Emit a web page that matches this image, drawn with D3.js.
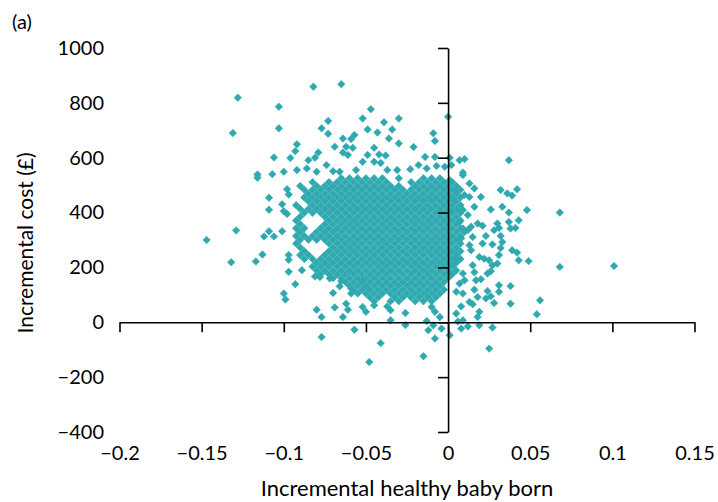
<!DOCTYPE html>
<html>
<head>
<meta charset="utf-8">
<script src="https://cdn.jsdelivr.net/npm/d3@7"></script>
<style>
  body { margin: 0; background: #fff; }
  text { font-family: Lato, "Open Sans", sans-serif; fill: #000; }
</style>
</head>
<body>
<svg id="chart" width="718" height="502"></svg>
<script>
var xTicks = [-0.2, -0.15, -0.1, -0.05, 0, 0.05, 0.1, 0.15];
var xTickLabels = ['\u22120.2', '\u22120.15', '\u22120.1', '\u22120.05', '0', '0.05', '0.1', '0.15'];
var yTicks = [-400, -200, 0, 200, 400, 600, 800, 1000];
var yTickLabels = ['\u2212400', '\u2212200', '0', '200', '400', '600', '800', '1000'];

// scattered simulations around the cloud: [incremental effect, incremental cost]
var outerPoints = [
  [-0.128,819],[-0.103,786],[-0.131,690],[-0.103,707],[-0.106,601],[-0.096,599],[-0.107,540],[-0.100,549],[-0.116,539],
  [-0.082,859],[-0.065,868],[-0.073,734],[-0.077,707],[-0.073,687],[-0.052,743],[-0.047,777],[-0.049,703],[-0.064,670],
  [-0.057,683],[-0.059,668],[-0.092,649],[-0.093,624],[-0.069,640],[-0.062,640],[-0.058,636],[-0.064,619],[-0.061,610],
  [-0.079,619],[-0.081,600],[-0.085,591],[-0.052,585],[-0.074,573],[-0.086,561],[-0.092,555],[-0.070,551],[-0.066,549],
  [-0.080,549],[-0.056,555],[-0.049,610],
  [-0.030,743],[-0.039,729],[-0.034,703],[-0.043,692],[-0.036,670],[-0.030,652],[-0.021,639],[-0.009,689],[-0.008,661],
  [0.000,749],[-0.045,636],[-0.042,612],[-0.038,608],[-0.014,603],[-0.008,603],[0.001,600],[-0.045,585],[-0.041,581],
  [-0.037,555],[-0.031,555],[-0.023,558],[-0.018,573],[-0.013,561],[-0.007,570],[-0.002,567],
  [0.037,591],[0.007,591],[0.010,595],[0.002,573],[0.009,546],
  [-0.116,527],[-0.098,485],[-0.097,466],[-0.109,454],[-0.101,430],[-0.109,410],[-0.100,405],[-0.098,395],[-0.129,335],
  [-0.147,300],[-0.109,332],[-0.112,313],[-0.106,313],[-0.101,332],[-0.113,247],[-0.132,219],[-0.117,222],[-0.097,245],
  [-0.097,228],
  [0.001,518],[0.009,537],[0.013,506],[0.016,488],[0.032,482],[0.036,470],[0.039,462],[0.042,485],[0.005,478],[0.010,464],
  [0.013,457],[0.020,457],[0.004,445],[0.016,421],[0.026,411],[0.033,421],[0.037,400],[0.048,409],[0.068,400],[0.002,403],
  [0.009,409],[0.012,391],[0.007,366],[0.018,360],[0.021,352],[0.030,360],[0.037,366],[0.043,372],[0.028,336],[0.031,344],
  [0.038,342],[0.041,344],[0.009,342],[0.012,336],[0.014,348],[0.023,315],[0.032,315],[0.015,311],[0.008,306],[0.033,293],
  [0.021,287],[0.027,284],[0.013,281],[0.014,263],[0.032,271],[0.039,263],[0.042,254],[0.031,245],[0.019,238],[0.022,232],
  [0.025,226],[0.043,226],[0.049,223],[0.068,202],[0.101,205],[0.015,208],[0.027,208],[0.030,214],[0.005,233],[0.003,208],
  [0.001,179],[0.009,178],[0.016,182],[0.024,178],[0.026,186],[0.031,135],[0.031,111],[0.038,132],[0.017,153],[0.020,157],
  [0.007,141],[0.010,153],[0.024,114],[0.016,119],[0.005,111],[0.009,105],[0.018,92],[0.023,87],[0.026,95],[0.028,70],
  [0.013,74],[0.015,66],[0.008,58],[0.038,68],[0.056,80],[0.054,29],[0.019,38],[0.018,19],[0.005,32],[0.009,7],[0.006,3],
  [0.019,-11],[0.012,-15],[0.008,-23],[0.027,-19],[0.025,-96],[0.001,-47],
  [-0.041,-76],[-0.015,-124],[-0.048,-145],[-0.035,7],[-0.026,-10],[-0.013,5],[-0.009,-11],[-0.012,-29],[-0.004,-23],
  [-0.008,-59],[-0.026,34],[-0.037,58],[-0.035,44],[-0.045,62],[-0.008,38],[-0.005,19],[-0.010,56],
  [-0.093,139],[-0.077,-54],[-0.057,-27],[-0.080,46],[-0.077,19],[-0.069,54],[-0.064,19],[-0.062,68],[-0.061,46],
  [-0.070,107],[-0.066,131],[-0.065,150],[-0.059,123],[-0.059,105],[-0.072,160],[-0.078,165],[-0.081,167],[-0.052,153],
  [-0.050,129],[-0.052,56],[-0.050,38],[-0.089,190],
  [-0.100,105],[-0.099,83],[-0.097,184]
];

// dense centre of the cloud, read band by band: cost level and the effects seen at it
var coreCosts = [525, 511, 497, 483, 469, 455, 441, 427, 413, 399, 385, 371, 357, 343, 329, 315, 301,
                 287, 273, 259, 245, 231, 217, 203, 189, 175, 161, 147, 133, 119, 105, 91, 77];
var coreEffects = [
  [-0.065,-0.060,-0.055,-0.050,-0.045,-0.040,-0.030,-0.015,-0.010,-0.005],
  [-0.0825,-0.0725,-0.0675,-0.0625,-0.0575,-0.0525,-0.0475,-0.0425,-0.0375,-0.0225,-0.0175,-0.0125,-0.0075,-0.0025,0.0025],
  [-0.090,-0.080,-0.075,-0.070,-0.065,-0.060,-0.055,-0.050,-0.045,-0.040,-0.035,-0.030,-0.020,-0.015,-0.010,-0.005,0.000,0.005],
  [-0.0875,-0.0825,-0.0775,-0.0725,-0.0675,-0.0625,-0.0575,-0.0525,-0.0475,-0.0425,-0.0375,-0.0325,-0.0275,-0.0225,-0.0175,-0.0125,-0.0075,-0.0025,0.0025,0.0075],
  [-0.085,-0.080,-0.075,-0.070,-0.065,-0.060,-0.055,-0.050,-0.045,-0.040,-0.035,-0.030,-0.025,-0.020,-0.015,-0.010,-0.005,0.000,0.005],
  [-0.0875,-0.0825,-0.0775,-0.0725,-0.0675,-0.0625,-0.0575,-0.0525,-0.0475,-0.0425,-0.0375,-0.0325,-0.0275,-0.0225,-0.0175,-0.0125,-0.0075,-0.0025,0.0025,0.0075],
  [-0.085,-0.080,-0.075,-0.070,-0.065,-0.060,-0.055,-0.050,-0.045,-0.040,-0.035,-0.030,-0.025,-0.020,-0.015,-0.010,-0.005,0.000,0.005],
  [-0.0925,-0.0825,-0.0775,-0.0725,-0.0675,-0.0625,-0.0575,-0.0525,-0.0475,-0.0425,-0.0375,-0.0325,-0.0275,-0.0225,-0.0175,-0.0125,-0.0075,-0.0025,0.0025,0.0075],
  [-0.090,-0.085,-0.080,-0.075,-0.070,-0.065,-0.060,-0.055,-0.050,-0.045,-0.040,-0.035,-0.030,-0.025,-0.020,-0.015,-0.010,-0.005,0.000,0.005],
  [-0.0875,-0.0825,-0.0775,-0.0725,-0.0675,-0.0625,-0.0575,-0.0525,-0.0475,-0.0425,-0.0375,-0.0325,-0.0275,-0.0225,-0.0175,-0.0125,-0.0075,-0.0025,0.0025,0.0075],
  [-0.090,-0.075,-0.070,-0.065,-0.060,-0.055,-0.050,-0.045,-0.040,-0.035,-0.030,-0.025,-0.020,-0.015,-0.010,-0.005,0.000,0.005],
  [-0.0925,-0.0725,-0.0675,-0.0625,-0.0575,-0.0525,-0.0475,-0.0425,-0.0375,-0.0325,-0.0275,-0.0225,-0.0175,-0.0125,-0.0075,-0.0025,0.0025,0.0075],
  [-0.090,-0.075,-0.070,-0.065,-0.060,-0.055,-0.050,-0.045,-0.040,-0.035,-0.030,-0.025,-0.020,-0.015,-0.010,-0.005,0.000,0.005],
  [-0.0925,-0.0875,-0.0775,-0.0725,-0.0675,-0.0625,-0.0575,-0.0525,-0.0475,-0.0425,-0.0375,-0.0325,-0.0275,-0.0225,-0.0175,-0.0125,-0.0075,-0.0025,0.0025,0.0075],
  [-0.090,-0.080,-0.075,-0.070,-0.065,-0.060,-0.055,-0.050,-0.045,-0.040,-0.035,-0.030,-0.025,-0.020,-0.015,-0.010,-0.005,0.000,0.005,0.010],
  [-0.0925,-0.0875,-0.0825,-0.0775,-0.0725,-0.0675,-0.0625,-0.0575,-0.0525,-0.0475,-0.0425,-0.0375,-0.0325,-0.0275,-0.0225,-0.0175,-0.0125,-0.0075,-0.0025,0.0025,0.0075],
  [-0.090,-0.085,-0.080,-0.075,-0.070,-0.065,-0.060,-0.055,-0.050,-0.045,-0.040,-0.035,-0.030,-0.025,-0.020,-0.015,-0.010,-0.005,0.000,0.005],
  [-0.0925,-0.0725,-0.0675,-0.0625,-0.0575,-0.0525,-0.0475,-0.0425,-0.0375,-0.0325,-0.0275,-0.0225,-0.0175,-0.0125,-0.0075,-0.0025,0.0025,0.0075],
  [-0.090,-0.070,-0.065,-0.060,-0.055,-0.050,-0.045,-0.040,-0.035,-0.030,-0.025,-0.020,-0.015,-0.010,-0.005,0.000,0.005],
  [-0.0875,-0.0725,-0.0675,-0.0625,-0.0575,-0.0525,-0.0475,-0.0425,-0.0375,-0.0325,-0.0275,-0.0225,-0.0175,-0.0125,-0.0075,-0.0025,0.0025,0.0075],
  [-0.090,-0.085,-0.075,-0.070,-0.065,-0.060,-0.055,-0.050,-0.045,-0.040,-0.035,-0.030,-0.025,-0.020,-0.015,-0.010,-0.005,0.000,0.005],
  [-0.0875,-0.0825,-0.0775,-0.0725,-0.0675,-0.0625,-0.0575,-0.0525,-0.0475,-0.0425,-0.0375,-0.0325,-0.0275,-0.0225,-0.0175,-0.0125,-0.0075,-0.0025,0.0025,0.0075],
  [-0.080,-0.075,-0.070,-0.065,-0.060,-0.055,-0.050,-0.045,-0.040,-0.035,-0.030,-0.025,-0.020,-0.015,-0.010,-0.005,0.000,0.005],
  [-0.0825,-0.0775,-0.0725,-0.0675,-0.0625,-0.0575,-0.0525,-0.0475,-0.0425,-0.0375,-0.0325,-0.0275,-0.0225,-0.0175,-0.0125,-0.0075,-0.0025,0.0025],
  [-0.080,-0.075,-0.070,-0.065,-0.060,-0.055,-0.050,-0.045,-0.040,-0.035,-0.030,-0.025,-0.020,-0.015,-0.010,-0.005,0.000,0.005],
  [-0.0775,-0.0725,-0.0675,-0.0625,-0.0575,-0.0525,-0.0475,-0.0425,-0.0375,-0.0325,-0.0275,-0.0225,-0.0175,-0.0125,-0.0075,-0.0025,0.0025],
  [-0.070,-0.065,-0.060,-0.055,-0.050,-0.045,-0.040,-0.035,-0.030,-0.025,-0.020,-0.015,-0.010,-0.005,0.000],
  [-0.0625,-0.0575,-0.0525,-0.0475,-0.0425,-0.0375,-0.0325,-0.0275,-0.0225,-0.0175,-0.0125,-0.0075,-0.0025],
  [-0.060,-0.055,-0.050,-0.045,-0.040,-0.035,-0.030,-0.025,-0.020,-0.015,-0.010,-0.005],
  [-0.0575,-0.0525,-0.0475,-0.0425,-0.0375,-0.0325,-0.0275,-0.0225,-0.0175,-0.0125,-0.0075,-0.0025],
  [-0.055,-0.050,-0.045,-0.040,-0.035,-0.030,-0.025,-0.020,-0.015,-0.010,-0.005],
  [-0.0475,-0.0425,-0.0325,-0.0275,-0.0225,-0.0175,-0.0125,-0.0075],
  [-0.045,-0.035,-0.030,-0.020,-0.015,-0.010]
];

var markerColor = '#2fa9b0';

var svg = d3.select('#chart');

var x = d3.scaleLinear().domain([-0.2, 0.15]).range([119.5, 694.5]);
var y = d3.scaleLinear().domain([-400, 1000]).range([432, 48]);

// flatten the bands into points
var points = outerPoints.slice();
coreCosts.forEach(function(cost, i) {
  coreEffects[i].forEach(function(effect) {
    points.push([effect, cost]);
  });
});

var diamond = d3.symbol().type(d3.symbolSquare).size(28);

svg.append('g')
  .selectAll('path')
  .data(points)
  .enter()
  .append('path')
  .attr('d', diamond)
  .attr('fill', markerColor)
  .attr('stroke', markerColor)
  .attr('stroke-width', 0.6)
  .attr('transform', function(d) {
    return 'translate(' + x(d[0]) + ',' + y(d[1]) + ') rotate(45)';
  });

// axes crossing at the origin, ticks only
var xAxisLine = svg.append('g')
  .attr('transform', 'translate(0,' + y(0) + ')')
  .call(d3.axisBottom(x).tickValues(xTicks).tickSize(10).tickSizeOuter(0).tickFormat(''));

var yAxisLine = svg.append('g')
  .attr('transform', 'translate(' + x(0) + ',0)')
  .call(d3.axisLeft(y).tickValues(yTicks).tickSize(10).tickSizeOuter(0).tickFormat(''));

[xAxisLine, yAxisLine].forEach(function(g) {
  g.selectAll('path, line').attr('stroke', '#000').attr('stroke-width', 1.6);
});

// tick labels sit on the plot edges
var xLabels = svg.append('g')
  .attr('transform', 'translate(0,438)')
  .call(d3.axisBottom(x).tickValues(xTicks).tickSize(0).tickPadding(8)
    .tickFormat(function(d, i) { return xTickLabels[i]; }));

var yLabels = svg.append('g')
  .attr('transform', 'translate(104,0)')
  .call(d3.axisLeft(y).tickValues(yTicks).tickSize(0).tickPadding(0)
    .tickFormat(function(d, i) { return yTickLabels[i]; }));

[xLabels, yLabels].forEach(function(g) {
  g.select('.domain').remove();
  g.selectAll('text')
    .attr('fill', '#000')
    .style('font-family', 'Lato, sans-serif')
    .style('font-size', '20px');
});

svg.append('text')
  .attr('x', (x.range()[0] + x.range()[1]) / 2)
  .attr('y', 496)
  .attr('text-anchor', 'middle')
  .style('font-size', '22px')
  .text('Incremental healthy baby born');

svg.append('text')
  .attr('transform', 'translate(33,243) rotate(-90)')
  .attr('text-anchor', 'middle')
  .style('font-size', '21px')
  .text('Incremental cost (\u00a3)');

svg.append('text')
  .attr('x', 12)
  .attr('y', 29)
  .style('font-size', '20px')
  .text('(a)');
</script>
</body>
</html>
